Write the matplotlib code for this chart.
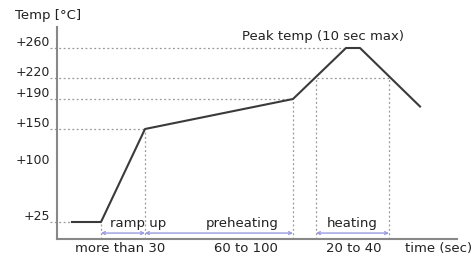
import numpy as np
import matplotlib
matplotlib.use('Agg')
import matplotlib.pyplot as plt

# Reflow profile (schematic time units, temperature in °C)
profile_time = [15, 44, 88, 236, 289, 303, 363]
profile_temp = [25, 25, 150, 190, 260, 260, 180]

temp_levels = [25, 100, 150, 190, 220, 260]
temp_labels = ['+25', '+100', '+150', '+190', '+220', '+260']

# dotted guide lines: (level, end time)
hline_temps = [25, 150, 190, 220, 260]
hline_ends = [15, 88, 236, 332, 289]
vline_times = [44, 88, 236, 259, 332]
vline_temps = [25, 150, 190, 220, 220]

phase_names = ['ramp up', 'preheating', 'heating']
phase_start = [44, 88, 259]
phase_end = [88, 236, 332]
phase_label_x = [81, 185, 295]
duration_labels = ['more than 30', '60 to 100', '20 to 40']
duration_x = [63, 189, 297]

# schematic (non-linear) temperature axis
knot_t = [0, 25, 100, 150, 190, 220, 260, 290]
knot_h = [0, 17, 73, 110, 140, 161, 191, 212]


def fwd(t):
    return np.interp(t, knot_t, knot_h)


def inv(h):
    return np.interp(h, knot_h, knot_t)


def main():
    plt.rcParams['font.family'] = 'DejaVu Sans'
    fig = plt.figure(figsize=(4.72, 2.57), dpi=100)
    ax = fig.add_axes([57 / 472, 18 / 257, 400 / 472, 212 / 257])
    ax.set_yscale('function', functions=(fwd, inv))
    ax.set_xlim(0, 400)
    ax.set_ylim(0, 290)

    fs = 9.5
    tc = '#222222'

    guide = dict(color='#999999', lw=0.9, ls=(0, (1.5, 2)), clip_on=False)
    for t, xe in zip(hline_temps, hline_ends):
        ax.plot([-7, xe], [t, t], **guide)
    for x, t in zip(vline_times, vline_temps):
        ax.plot([x, x], [0, t], **guide)

    ax.plot(profile_time, profile_temp, color='#3a3a3a', lw=1.5)

    for t, lab in zip(temp_levels, temp_labels):
        ax.annotate(lab, xy=(-7, t), xytext=(0, 3.8), textcoords='offset points',
                    ha='right', va='center', fontsize=fs - 0.5, color=tc,
                    annotation_clip=False)

    trans = ax.get_xaxis_transform()
    for name, s, e, lx in zip(phase_names, phase_start, phase_end, phase_label_x):
        ax.annotate('', xy=(s, 0.028), xytext=(e, 0.028), xycoords=trans,
                    arrowprops=dict(arrowstyle='<->', color='#9a9ae0', lw=1.0,
                                    mutation_scale=5, shrinkA=0, shrinkB=0))
        ax.text(lx, 0.075, name, transform=trans, ha='center',
                va='center', fontsize=fs, color=tc)

    for lab, x in zip(duration_labels, duration_x):
        ax.text(x, -0.045, lab, transform=trans, ha='center', va='center',
                fontsize=fs, color=tc, clip_on=False)
    ax.text(348, -0.045, 'time (sec)', transform=trans, ha='left', va='center',
            fontsize=fs, color=tc, clip_on=False)

    ax.text(266, 277, 'Peak temp (10 sec max)', ha='center', va='center',
            fontsize=fs, color=tc)
    fig.text(15 / 472, 1 - 15 / 257, 'Temp [°C]', ha='left', va='center',
             fontsize=fs, color=tc)

    for side in ['top', 'right']:
        ax.spines[side].set_visible(False)
    for side in ['left', 'bottom']:
        ax.spines[side].set_color('#888888')
        ax.spines[side].set_linewidth(1.5)
    ax.set_xticks([])
    ax.set_yticks([])
    ax.minorticks_off()

    fig.savefig('out.png', dpi=100)


if __name__ == '__main__':
    main()
